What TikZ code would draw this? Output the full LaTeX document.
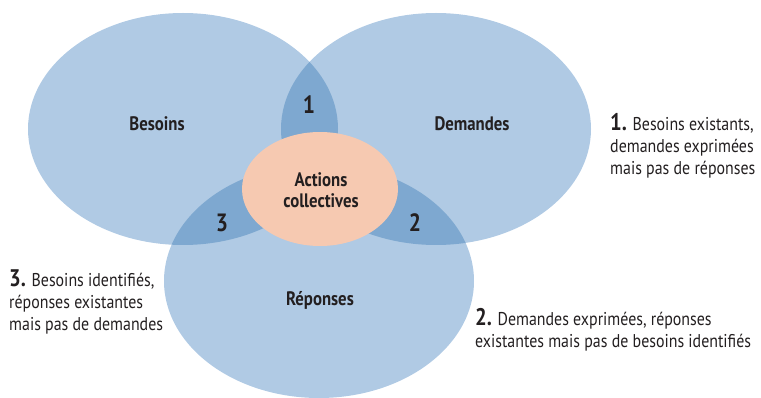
\documentclass[tikz,border=0pt]{standalone}
\usepackage{fontspec}
\setmainfont[FakeStretch=0.86]{PT Sans}
\definecolor{lightblue}{HTML}{B0CAE4}
\definecolor{darkblue}{HTML}{7EA8D0}
\definecolor{peach}{HTML}{F6C9B1}
\definecolor{ink}{HTML}{231F20}
\newcommand{\nnum}[1]{{\bfseries\fontsize{24}{22}\selectfont #1}}
\begin{document}
\begin{tikzpicture}[x=1pt,y=-1pt,
  lbl/.style={text=ink,font=\bfseries\fontsize{19.5}{20}\selectfont,inner sep=0pt},
  num/.style={text=ink,font=\bfseries\fontsize{25}{24}\selectfont,inner sep=0pt},
  note/.style={text=ink,font=\fontsize{18.5}{22}\selectfont,align=left,inner sep=0pt,anchor=west}]
\useasboundingbox (0,0) rectangle (761,398);
\def\ellB{(183,129) ellipse [x radius=155pt, y radius=116pt]}
\def\ellD{(436,129) ellipse [x radius=155pt, y radius=116pt]}
\def\ellR{(319,281) ellipse [x radius=155pt, y radius=117pt]}
\fill[lightblue] \ellB;
\fill[lightblue] \ellD;
\fill[lightblue] \ellR;
\begin{scope}
  \clip \ellB;
  \fill[darkblue] \ellD;
  \fill[darkblue] \ellR;
\end{scope}
\begin{scope}
  \clip \ellD;
  \fill[darkblue] \ellR;
\end{scope}
\fill[peach] (320,189) ellipse [x radius=78pt, y radius=57pt];
\node[lbl] (besoins) at (157,124) {Besoins};
\node[lbl] (demandes) at (472,124) {Demandes};
\node[lbl] (reponses) at (320,300) {Réponses};
\node[lbl,align=center,font=\bfseries\fontsize{19.5}{20.5}\selectfont] (actions) at (321,190) {Actions\\collectives};
\node[num] (n1) at (309,105) {1};
\node[num] (n2) at (415,223) {2};
\node[num] (n3) at (222,223) {3};
\node[note] (note1) at (610,146) {\nnum{1.} Besoins existants,\\demandes exprimées\\mais pas de réponses};
\node[note] (note3) at (9,302) {\nnum{3.} Besoins identifiés,\\réponses existantes\\mais pas de demandes};
\node[note] (note2) at (475,330) {\nnum{2.} Demandes exprimées, réponses\\existantes mais pas de besoins identifiés};
\end{tikzpicture}
\end{document}
